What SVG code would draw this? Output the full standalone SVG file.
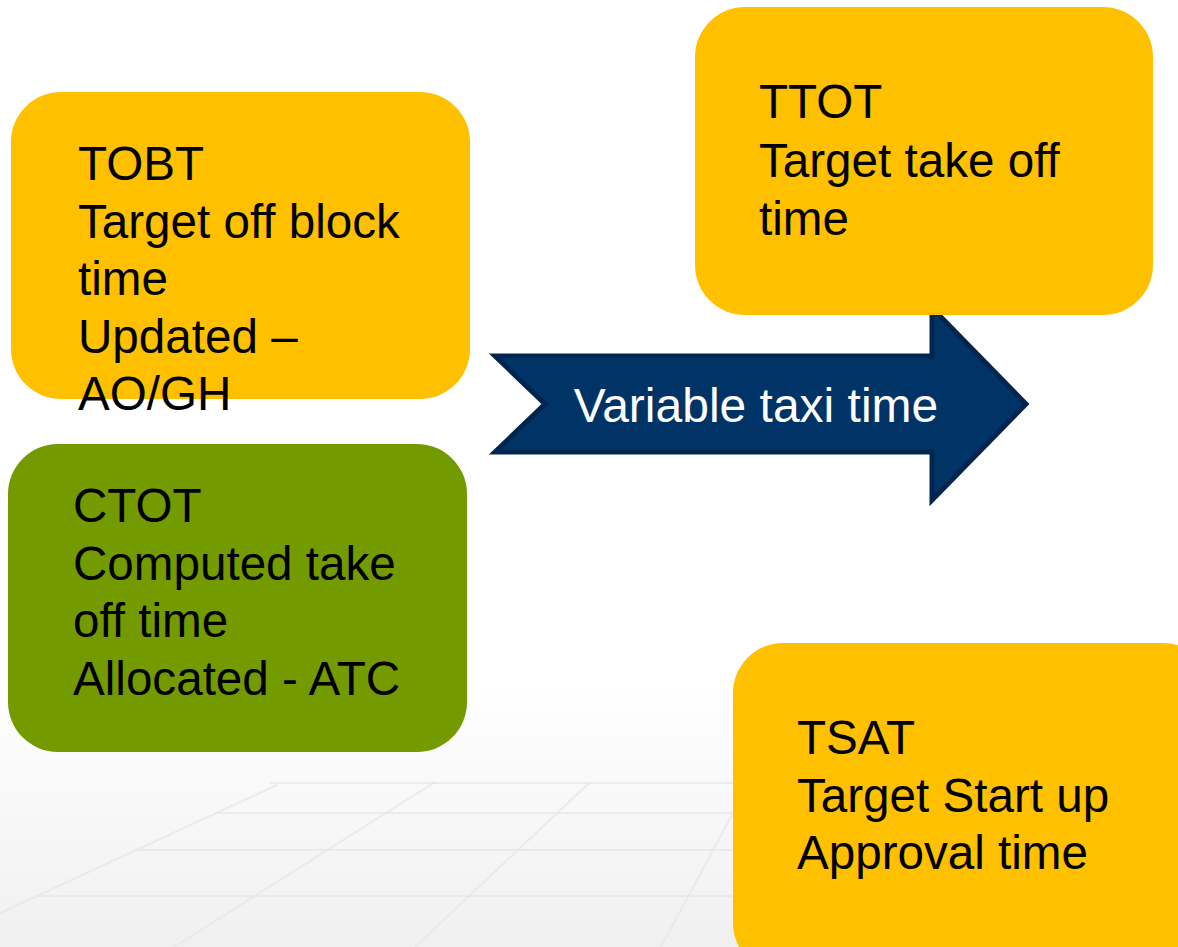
<svg xmlns="http://www.w3.org/2000/svg" width="1178" height="947" viewBox="0 0 1178 947">
  <defs>
    <linearGradient id="bg" x1="0" y1="0" x2="0" y2="1">
      <stop offset="0" stop-color="#ffffff"/>
      <stop offset="0.72" stop-color="#ffffff"/>
      <stop offset="1" stop-color="#f0f0f0"/>
    </linearGradient>
    <style>
      .box-y { fill: #FFC000; }
      .box-g { fill: #739B00; }
      .lbl { font-family: "Liberation Sans", Arial, sans-serif; font-size: 47.6px; fill: #000000; }
      .arrow { fill: #003366; stroke: #00264F; stroke-width: 5; stroke-linejoin: miter; }
      .arrow-lbl { font-family: "Liberation Sans", Arial, sans-serif; font-size: 48px; fill: #ffffff; text-anchor: middle; }
      .grid { stroke: #e6e6e6; stroke-width: 2; fill: none; opacity: 0.7; }
    </style>
  </defs>

  <rect x="0" y="0" width="1178" height="947" fill="url(#bg)"/>
  <g id="background-grid">
    <line class="grid" x1="270" y1="783" x2="1178" y2="783" opacity="0.35"/>
    <line class="grid" x1="214" y1="813" x2="1178" y2="813"/>
    <line class="grid" x1="134" y1="850" x2="1178" y2="850"/>
    <line class="grid" x1="38" y1="896" x2="1178" y2="896"/>
    <line class="grid" x1="0" y1="913" x2="277" y2="785"/>
    <line class="grid" x1="174" y1="947" x2="435" y2="782"/>
    <line class="grid" x1="415" y1="947" x2="589" y2="783"/>
    <line class="grid" x1="661" y1="947" x2="740" y2="800"/>
  </g>

  <g id="connectors">
    <g id="arrow-variable-taxi-time">
      <polygon class="arrow" points="495,356 932,356 932,308 1026,404 932,500 932,452 495,452 545,404"/>
      <text class="arrow-lbl" x="756" y="422">Variable taxi time</text>
    </g>
  </g>

  <g id="node-tobt">
    <rect class="box-y" x="11" y="92" width="459" height="307" rx="50" ry="50"/>
    <text class="lbl">
      <tspan x="78" y="180">TOBT</tspan>
      <tspan x="78" y="237.5">Target off block</tspan>
      <tspan x="78" y="295">time</tspan>
      <tspan x="78" y="352.5">Updated –</tspan>
      <tspan x="78" y="410">AO/GH</tspan>
    </text>
  </g>

  <g id="node-ttot">
    <rect class="box-y" x="695" y="7" width="458" height="308" rx="50" ry="50"/>
    <text class="lbl">
      <tspan x="759" y="118">TTOT</tspan>
      <tspan x="759" y="176.5">Target take off</tspan>
      <tspan x="759" y="235">time</tspan>
    </text>
  </g>

  <g id="node-ctot">
    <rect class="box-g" x="8" y="444" width="459" height="308" rx="50" ry="50"/>
    <text class="lbl">
      <tspan x="73" y="522">CTOT</tspan>
      <tspan x="73" y="579.5">Computed take</tspan>
      <tspan x="73" y="637">off time</tspan>
      <tspan x="73" y="694.5">Allocated - ATC</tspan>
    </text>
  </g>

  <g id="node-tsat">
    <rect class="box-y" x="733" y="643" width="480" height="330" rx="50" ry="50"/>
    <text class="lbl">
      <tspan x="797" y="754">TSAT</tspan>
      <tspan x="797" y="812">Target Start up</tspan>
      <tspan x="797" y="869">Approval time</tspan>
    </text>
  </g>
</svg>
